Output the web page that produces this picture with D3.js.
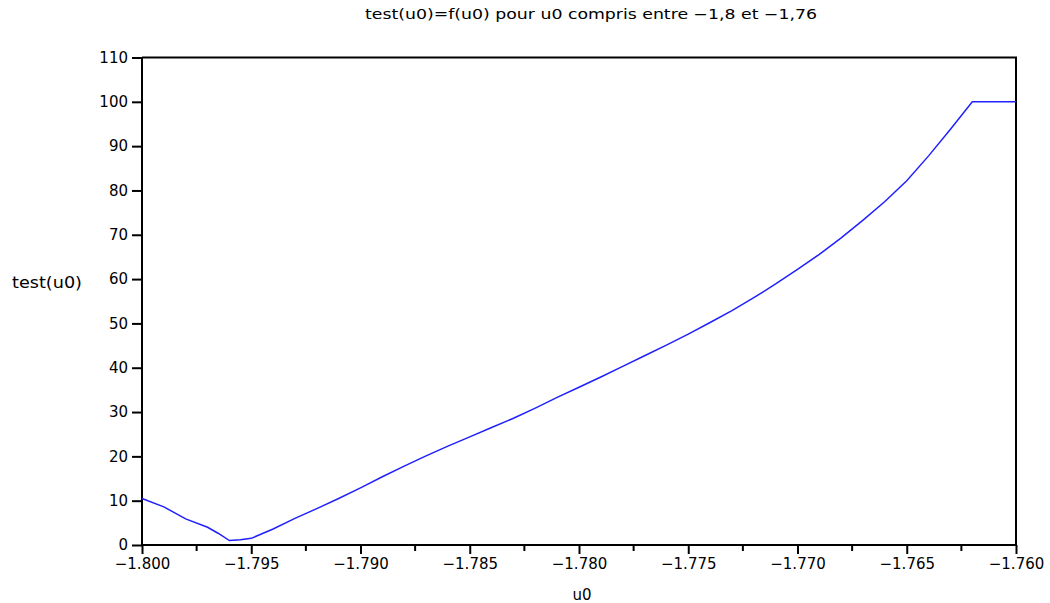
<!DOCTYPE html>
<html>
<head>
<meta charset="utf-8">
<script src="https://cdn.jsdelivr.net/npm/d3@7.9.0/dist/d3.min.js"></script>
<style>
  body { margin: 0; background: #fff; }
  svg text { font-family: 'DejaVu Sans', sans-serif; fill: #000; }
</style>
</head>
<body>
<svg id="chart" width="1050" height="603"></svg>
<script>
// values
const u0 = [-1.800, -1.799, -1.798, -1.797, -1.7965, -1.796, -1.7955, -1.795, -1.794, -1.793,
  -1.792, -1.791, -1.790, -1.789, -1.788, -1.787, -1.786, -1.785, -1.784, -1.783,
  -1.782, -1.781, -1.780, -1.779, -1.778, -1.777, -1.776, -1.775, -1.774, -1.773,
  -1.772, -1.771, -1.770, -1.769, -1.768, -1.767, -1.766, -1.765, -1.764, -1.763,
  -1.762, -1.761, -1.760];
const test = [10.5, 8.6, 5.9, 4.0, 2.6, 1.0, 1.2, 1.5, 3.6, 6.0,
  8.2, 10.5, 12.9, 15.4, 17.8, 20.1, 22.3, 24.4, 26.5, 28.6,
  30.9, 33.3, 35.6, 37.9, 40.3, 42.7, 45.1, 47.6, 50.2, 52.9,
  55.8, 58.9, 62.2, 65.6, 69.3, 73.3, 77.5, 82.2, 87.8, 93.8,
  100, 100, 100];
const xTicks = [-1.800, -1.795, -1.790, -1.785, -1.780, -1.775, -1.770, -1.765, -1.760];
const yTicks = [0, 10, 20, 30, 40, 50, 60, 70, 80, 90, 100, 110];

const svg = d3.select('#chart');
const x = d3.scaleLinear().domain([-1.8, -1.76]).range([142, 1016]);
const y = d3.scaleLinear().domain([0, 110]).range([545, 57.5]);

// frame (top and right)
svg.append('path')
  .attr('d', `M${x.range()[0]},${y(110)}H${x.range()[1]}V${y(0)}`)
  .attr('fill', 'none').attr('stroke', '#000').attr('stroke-width', 2);

// x axis
const xAxis = svg.append('g').attr('transform', `translate(0,${y(0)})`)
  .call(d3.axisBottom(x).tickValues(xTicks).tickFormat(d3.format('.3f'))
    .tickSize(9).tickPadding(4));
// minor ticks
const minor = d3.range(8).map(i => -1.7975 + i * 0.005);
xAxis.selectAll('.minor').data(minor).enter().append('line')
  .attr('x1', d => x(d)).attr('x2', d => x(d))
  .attr('y1', 0).attr('y2', 6)
  .attr('stroke', '#000').attr('stroke-width', 2);

// y axis
const yAxis = svg.append('g').attr('transform', `translate(${x.range()[0]},0)`)
  .call(d3.axisLeft(y).tickValues(yTicks).tickSize(10).tickPadding(4));

svg.selectAll('.domain').attr('stroke-width', 2);
svg.selectAll('.tick line').attr('stroke-width', 2);
svg.selectAll('.tick text').attr('font-size', 15).attr('font-family', "'DejaVu Sans', sans-serif");
xAxis.selectAll('.domain').attr('d', `M${x.range()[0]},0H${x.range()[1]}`);
yAxis.selectAll('.domain').attr('d', `M0,${y(0)}V${y(110)}`);

// curve
const line = d3.line().x((d, i) => x(u0[i])).y(d => y(d));
svg.append('path')
  .datum(test)
  .attr('d', line)
  .attr('fill', 'none')
  .attr('stroke', '#2020ff')
  .attr('stroke-width', 1.5);

// labels
svg.append('text')
  .attr('x', 591).attr('y', 19)
  .attr('text-anchor', 'middle')
  .attr('font-size', 14)
  .attr('textLength', 452).attr('lengthAdjust', 'spacingAndGlyphs')
  .text('test(u0)=f(u0) pour u0 compris entre −1,8 et −1,76');

svg.append('text')
  .attr('x', 582).attr('y', 600)
  .attr('text-anchor', 'middle')
  .attr('font-size', 15)
  .text('u0');

svg.append('text')
  .attr('x', 47).attr('y', 288)
  .attr('text-anchor', 'middle')
  .attr('font-size', 15)
  .attr('textLength', 70).attr('lengthAdjust', 'spacingAndGlyphs')
  .text('test(u0)');
</script>
</body>
</html>
